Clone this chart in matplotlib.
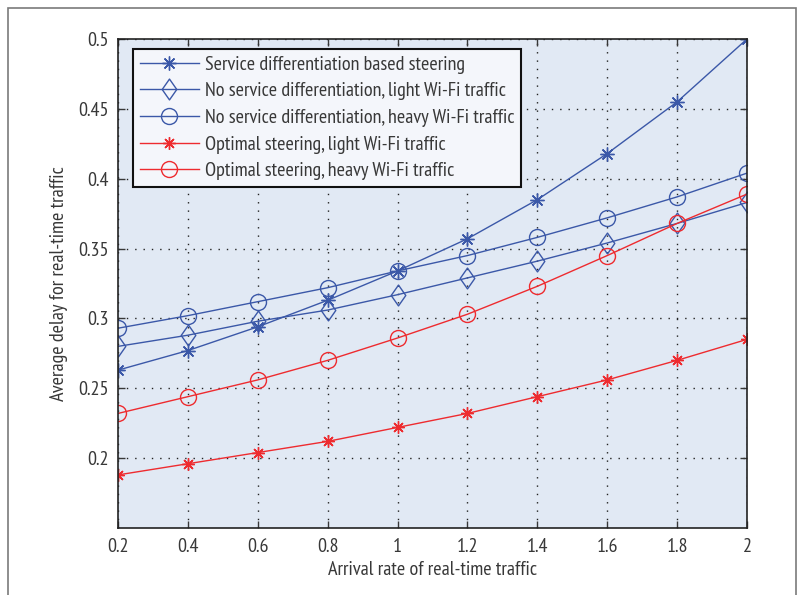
import matplotlib
matplotlib.use("Agg")
import matplotlib.pyplot as plt
from matplotlib.path import Path
from matplotlib.patches import Rectangle

arrival_rate = [0.2, 0.4, 0.6, 0.8, 1.0, 1.2, 1.4, 1.6, 1.8, 2.0]
service_diff = [0.263, 0.277, 0.294, 0.313, 0.334, 0.357, 0.385, 0.418, 0.455, 0.500]
no_diff_light = [0.280, 0.288, 0.298, 0.306, 0.317, 0.329, 0.341, 0.354, 0.368, 0.383]
no_diff_heavy = [0.293, 0.302, 0.312, 0.322, 0.334, 0.345, 0.358, 0.372, 0.387, 0.404]
opt_light = [0.188, 0.196, 0.204, 0.212, 0.222, 0.232, 0.244, 0.256, 0.270, 0.285]
opt_heavy = [0.232, 0.244, 0.256, 0.270, 0.286, 0.303, 0.323, 0.345, 0.368, 0.389]

labels = [
    "Service differentiation based steering",
    "No service differentiation, light Wi-Fi traffic",
    "No service differentiation, heavy Wi-Fi traffic",
    "Optimal steering, light Wi-Fi traffic",
    "Optimal steering, heavy Wi-Fi traffic",
]
xticks = [0.2, 0.4, 0.6, 0.8, 1, 1.2, 1.4, 1.6, 1.8, 2]
yticks = [0.2, 0.25, 0.3, 0.35, 0.4, 0.45, 0.5]

plt.rcParams["font.family"] = ["PT Sans Narrow", "Lato", "DejaVu Sans"]

blue = "#3b58a8"
red = "#ee2b2f"
text_col = "#383838"
star = (8, 2, 0)
diamond = Path([(0, -1), (0.7, 0), (0, 1), (-0.7, 0), (0, -1)],
               [Path.MOVETO, Path.LINETO, Path.LINETO, Path.LINETO, Path.CLOSEPOLY])

fig = plt.figure(figsize=(8.01, 5.95), dpi=100)
# thin grey frame round the whole picture (open at the bottom)
fig.patches.append(Rectangle((8 / 801, -0.1), 788 / 801, 1.1 - 8 / 595,
                             transform=fig.transFigure, fill=False,
                             edgecolor="#7a7a7a", linewidth=1.2))
ax = fig.add_axes([118 / 801, 67 / 595, 629 / 801, 489 / 595])
ax.set_facecolor("#e1e9f4")

series = [
    (service_diff, blue, star, 10),
    (no_diff_light, blue, diamond, 15),
    (no_diff_heavy, blue, "o", 11.5),
    (opt_light, red, star, 9),
    (opt_heavy, red, "o", 11.5),
]
for (values, color, marker, size), label in zip(series, labels):
    ax.plot(arrival_rate, values, color=color, marker=marker, markersize=size,
            markerfacecolor="none", markeredgecolor=color, markeredgewidth=1.0,
            linewidth=1.0, label=label)

ax.set_xlim(0.2, 2)
ax.set_ylim(0.15, 0.5)
ax.set_xticks(xticks)
ax.set_xticklabels([f"{v:g}" for v in xticks])
ax.set_yticks(yticks)
ax.set_yticklabels([f"{v:g}" for v in yticks])
ax.grid(True, linestyle=(0, (1, 5)), color="#222222", linewidth=1.0)
ax.tick_params(direction="in", top=True, right=True, length=5, width=1,
               labelsize=14.5, colors=text_col, pad=7)
for spine in ax.spines.values():
    spine.set_linewidth(1.2)
    spine.set_color("#222222")

ax.set_xlabel("Arrival rate of real-time traffic", fontsize=14.5, color=text_col, labelpad=4)
ax.set_ylabel("Average delay for real-time traffic", fontsize=14.5, color=text_col, labelpad=7)

leg = ax.legend(loc="upper left", bbox_to_anchor=(0.024, 0.98), fontsize=14.5,
                fancybox=False, framealpha=1, facecolor="#f4f6fb",
                edgecolor="#111111", borderpad=0.35, labelspacing=0.42,
                handlelength=2.9, handletextpad=0.3, borderaxespad=0)
leg.get_frame().set_linewidth(1.5)
for t in leg.get_texts():
    t.set_color(text_col)

fig.savefig("out.png", dpi=100)
